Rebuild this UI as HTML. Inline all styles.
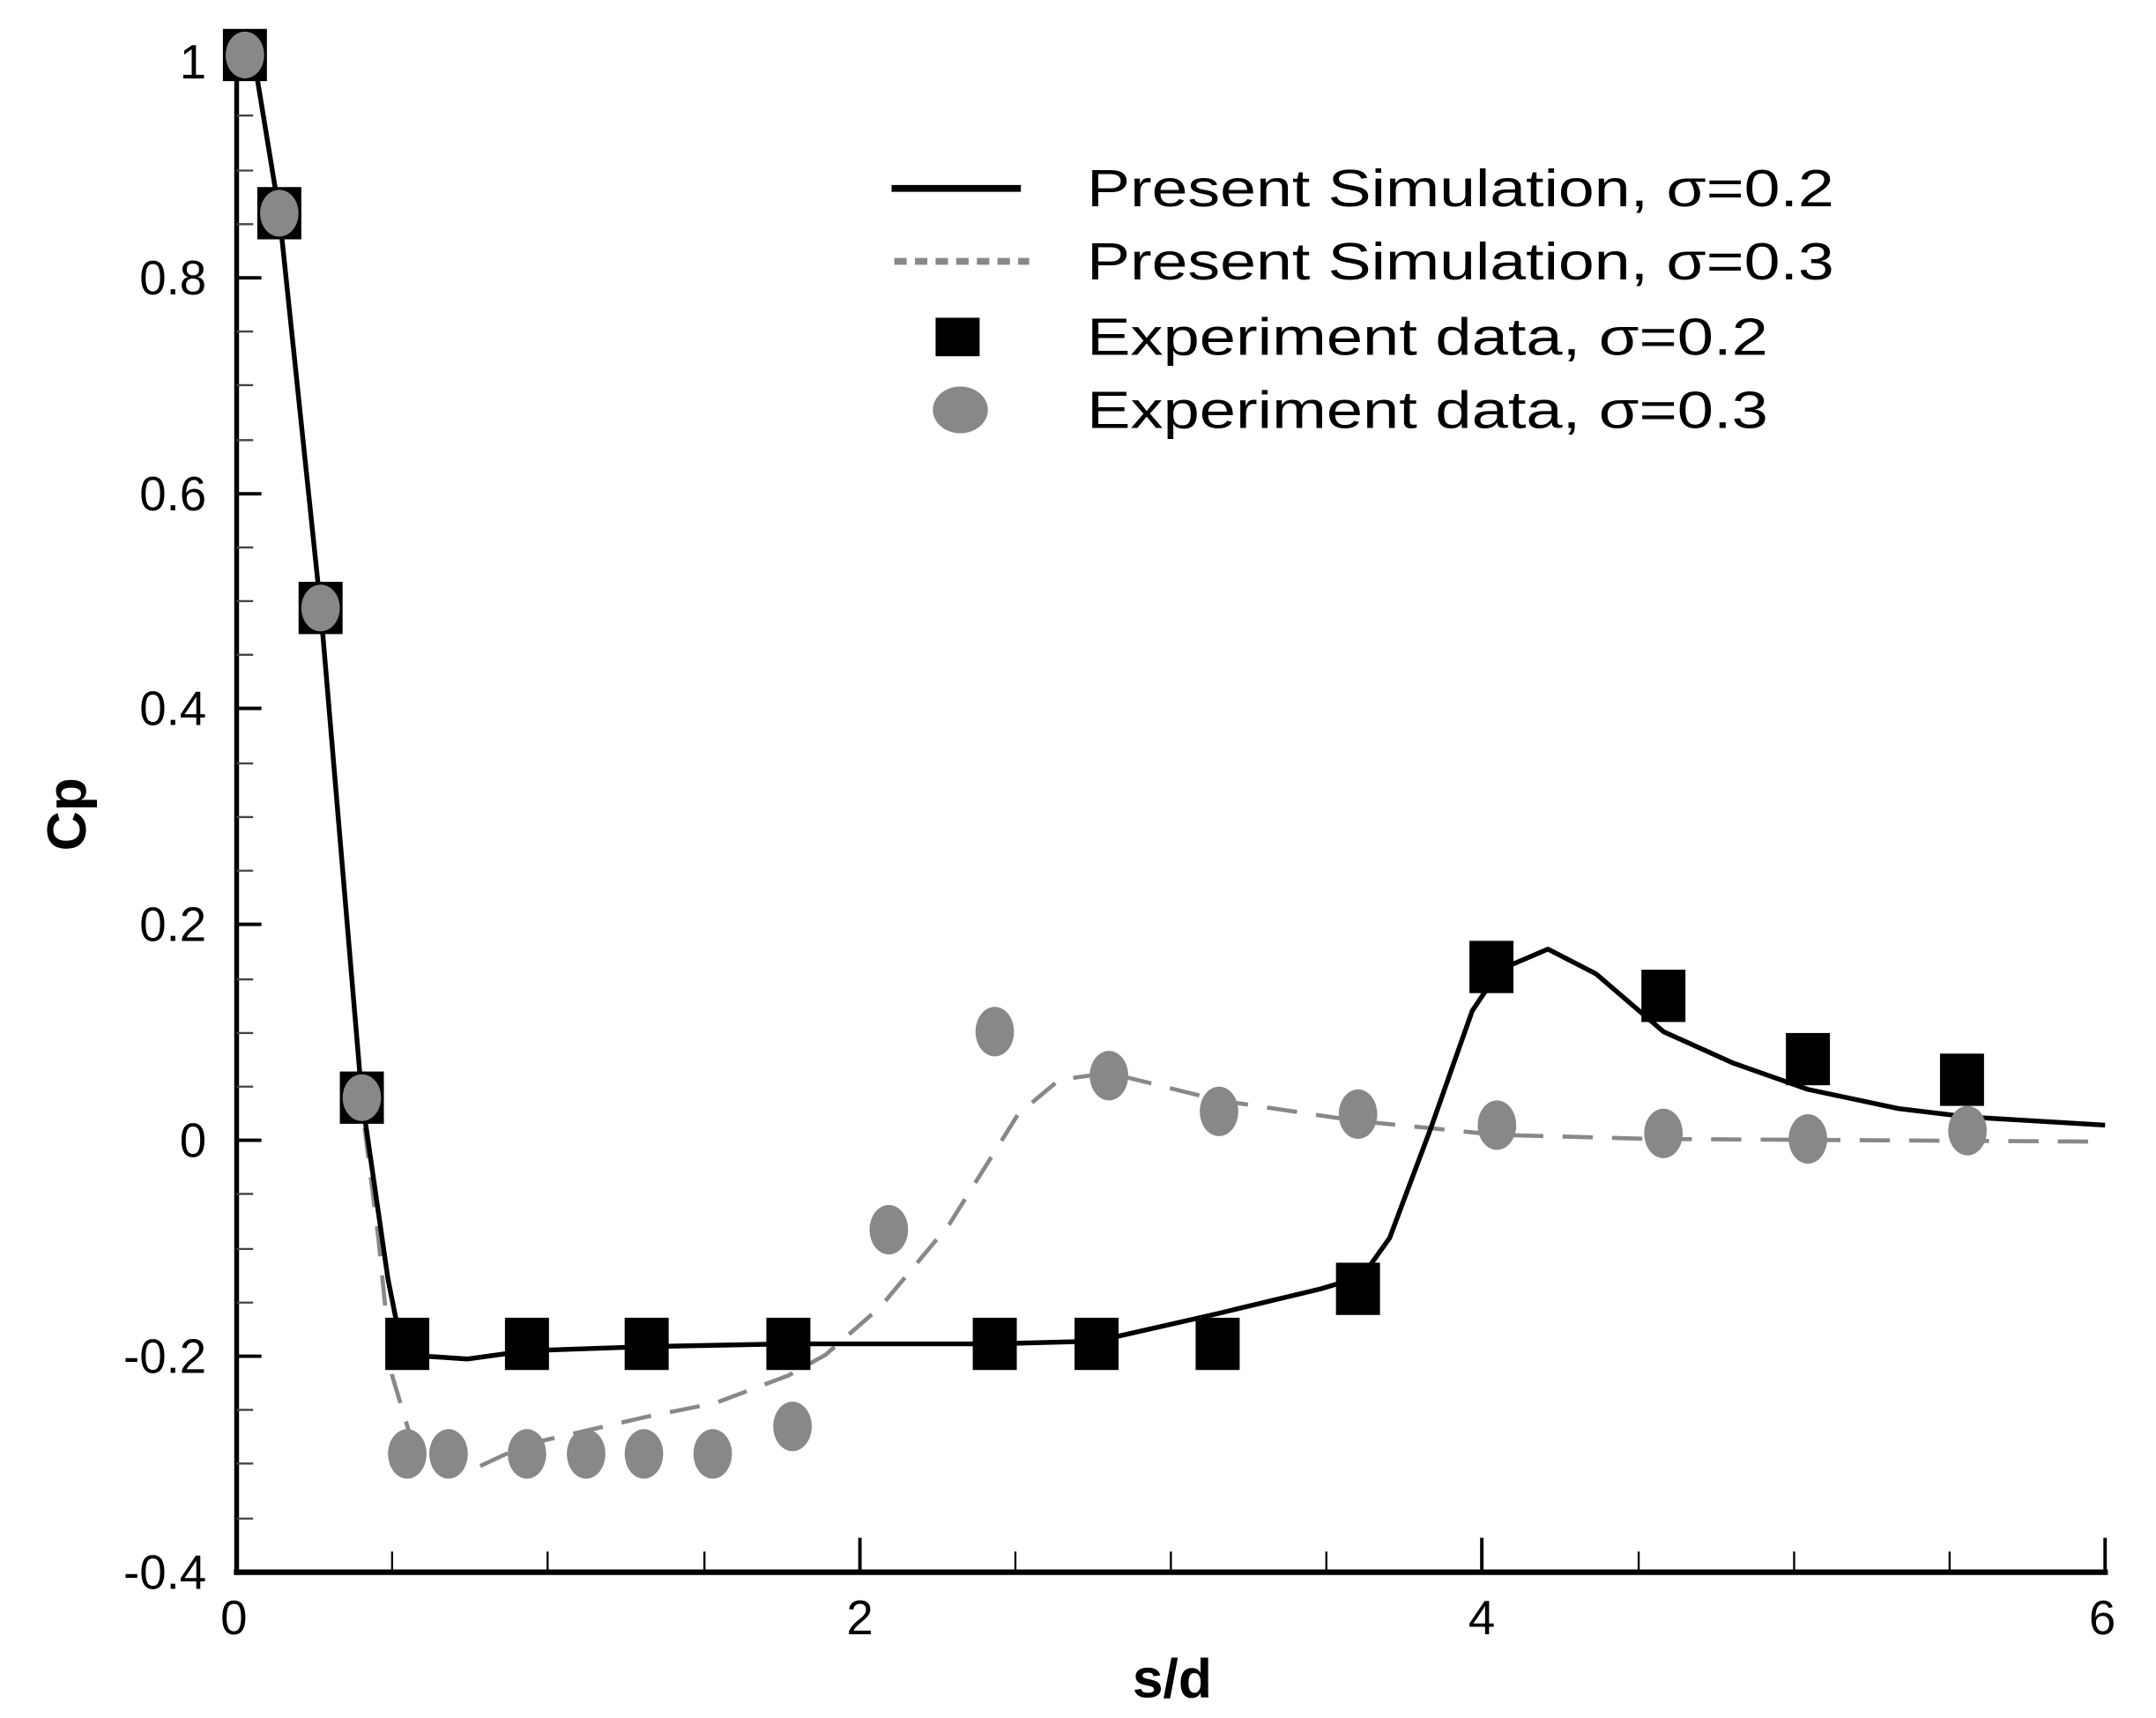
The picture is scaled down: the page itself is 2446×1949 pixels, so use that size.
<!DOCTYPE html>
<html><head><style>html,body{margin:0;padding:0;background:#fff;}svg{display:block}</style></head>
<body>
<svg width="2446" height="1949" viewBox="0 0 1567 1249" preserveAspectRatio="none" xmlns="http://www.w3.org/2000/svg" font-family="Liberation Sans, Arial, sans-serif">
<rect width="1567" height="1249" fill="#fff"/>
<g stroke="#000">
<line x1="172" y1="22" x2="172" y2="1145" stroke-width="3.5"/>
<line x1="170" y1="1143" x2="1532" y2="1143" stroke-width="4"/>
<g stroke-width="2.5">
<line x1="172" y1="45" x2="190" y2="45"/><line x1="172" y1="202" x2="190" y2="202"/>
<line x1="172" y1="359" x2="190" y2="359"/><line x1="172" y1="515" x2="190" y2="515"/>
<line x1="172" y1="672" x2="190" y2="672"/><line x1="172" y1="829" x2="190" y2="829"/>
<line x1="172" y1="986" x2="190" y2="986"/>
</g>
<g stroke-width="1.5" stroke="#444">
<line x1="172" y1="84" x2="184" y2="84"/><line x1="172" y1="124" x2="184" y2="124"/><line x1="172" y1="163" x2="184" y2="163"/>
<line x1="172" y1="241" x2="184" y2="241"/><line x1="172" y1="280" x2="184" y2="280"/><line x1="172" y1="320" x2="184" y2="320"/>
<line x1="172" y1="398" x2="184" y2="398"/><line x1="172" y1="437" x2="184" y2="437"/><line x1="172" y1="476" x2="184" y2="476"/>
<line x1="172" y1="555" x2="184" y2="555"/><line x1="172" y1="594" x2="184" y2="594"/><line x1="172" y1="633" x2="184" y2="633"/>
<line x1="172" y1="712" x2="184" y2="712"/><line x1="172" y1="751" x2="184" y2="751"/><line x1="172" y1="790" x2="184" y2="790"/>
<line x1="172" y1="868" x2="184" y2="868"/><line x1="172" y1="908" x2="184" y2="908"/><line x1="172" y1="947" x2="184" y2="947"/>
<line x1="172" y1="1025" x2="184" y2="1025"/><line x1="172" y1="1064" x2="184" y2="1064"/><line x1="172" y1="1104" x2="184" y2="1104"/>
</g>
<g stroke-width="2.5">
<line x1="625" y1="1143" x2="625" y2="1118"/><line x1="1077" y1="1143" x2="1077" y2="1118"/><line x1="1530" y1="1143" x2="1530" y2="1118"/>
</g>
<g stroke-width="1.5">
<line x1="285" y1="1143" x2="285" y2="1128"/><line x1="398" y1="1143" x2="398" y2="1128"/><line x1="512" y1="1143" x2="512" y2="1128"/>
<line x1="738" y1="1143" x2="738" y2="1128"/><line x1="851" y1="1143" x2="851" y2="1128"/><line x1="964" y1="1143" x2="964" y2="1128"/>
<line x1="1191" y1="1143" x2="1191" y2="1128"/><line x1="1304" y1="1143" x2="1304" y2="1128"/><line x1="1417" y1="1143" x2="1417" y2="1128"/>
</g>
</g>
<g font-size="35" fill="#000" text-anchor="end">
<text x="150" y="57">1</text><text x="150" y="214">0.8</text><text x="150" y="371">0.6</text>
<text x="150" y="527">0.4</text><text x="150" y="684">0.2</text><text x="150" y="841">0</text>
<text x="150" y="998">-0.2</text><text x="150" y="1155">-0.4</text>
</g>
<g font-size="35" fill="#000" text-anchor="middle">
<text x="170" y="1188">0</text><text x="625" y="1188">2</text><text x="1077" y="1188">4</text><text x="1528" y="1188">6</text>
</g>
<text x="852" y="1234" font-size="40" font-weight="bold" text-anchor="middle">s/d</text>
<text transform="translate(62,592) rotate(-90)" font-size="40" font-weight="bold" text-anchor="middle">Cp</text>
<path d="M265,820 L275,900 L285,1000 L300,1050 L340,1070 L383,1050 L470,1030 L520,1020 L573,1000 L600,985 L640,950 L690,890 L740,810 L770,785 L806,780 L886,800 L987,815 L1088,825 L1200,828 L1530,830" fill="none" stroke="#888" stroke-width="3" stroke-dasharray="22,14"/>
<path d="M172,28 L185,45 L203,155 L233,442 L263,798 L282,930 L292,980 L310,986 L340,988 L383,982 L470,979 L573,977 L723,977 L797,975 L885,955 L960,937 L990,928 L1010,900 L1040,820 L1070,735 L1090,705 L1125,690 L1160,708 L1209,750 L1260,773 L1314,792 L1380,806 L1430,812 L1530,818" fill="none" stroke="#000" stroke-width="3.5" stroke-linejoin="round"/>
<g fill="#000">
<rect x="162" y="21" width="32" height="38"/><rect x="187" y="136" width="32" height="38"/>
<rect x="217" y="423" width="32" height="38"/><rect x="247" y="779" width="32" height="38"/>
<rect x="280" y="958" width="32" height="38"/><rect x="367" y="958" width="32" height="38"/>
<rect x="454" y="958" width="32" height="38"/><rect x="557" y="958" width="32" height="38"/>
<rect x="707" y="958" width="32" height="38"/><rect x="781" y="958" width="32" height="38"/>
<rect x="869" y="958" width="32" height="38"/><rect x="971" y="918" width="32" height="38"/>
<rect x="1068" y="684" width="32" height="38"/><rect x="1193" y="705" width="32" height="38"/>
<rect x="1298" y="751" width="32" height="38"/><rect x="1410" y="766" width="32" height="38"/>
</g>
<g fill="#888">
<ellipse cx="178" cy="40" rx="14" ry="17"/><ellipse cx="203" cy="155" rx="14" ry="17"/>
<ellipse cx="233" cy="442" rx="14" ry="17"/><ellipse cx="263" cy="798" rx="14" ry="17"/>
<ellipse cx="296" cy="1057" rx="14" ry="18"/><ellipse cx="326" cy="1057" rx="14" ry="18"/>
<ellipse cx="383" cy="1057" rx="14" ry="18"/><ellipse cx="426" cy="1057" rx="14" ry="18"/>
<ellipse cx="468" cy="1057" rx="14" ry="18"/><ellipse cx="518" cy="1057" rx="14" ry="18"/>
<ellipse cx="576" cy="1037" rx="14" ry="18"/><ellipse cx="646" cy="894" rx="14" ry="18"/>
<ellipse cx="723" cy="750" rx="14" ry="18"/><ellipse cx="806" cy="782" rx="14" ry="18"/>
<ellipse cx="886" cy="808" rx="14" ry="18"/><ellipse cx="987" cy="810" rx="14" ry="18"/>
<ellipse cx="1088" cy="818" rx="14" ry="18"/><ellipse cx="1209" cy="824" rx="14" ry="18"/>
<ellipse cx="1314" cy="828" rx="14" ry="18"/><ellipse cx="1430" cy="822" rx="14" ry="18"/>
</g>
<line x1="648" y1="137" x2="742" y2="137" stroke="#000" stroke-width="5"/>
<line x1="650" y1="190" x2="748" y2="190" stroke="#888" stroke-width="5" stroke-dasharray="9,6"/>
<rect x="680" y="231" width="32" height="28" fill="#000"/>
<ellipse cx="698" cy="298" rx="20" ry="17" fill="#888"/>
<g font-size="38" fill="#000">
<text x="790" y="150" textLength="543" lengthAdjust="spacingAndGlyphs">Present Simulation, σ=0.2</text>
<text x="790" y="203" textLength="543" lengthAdjust="spacingAndGlyphs">Present Simulation, σ=0.3</text>
<text x="790" y="258" textLength="495" lengthAdjust="spacingAndGlyphs">Experiment data, σ=0.2</text>
<text x="790" y="311" textLength="495" lengthAdjust="spacingAndGlyphs">Experiment data, σ=0.3</text>
</g>
</svg>
</body></html>
